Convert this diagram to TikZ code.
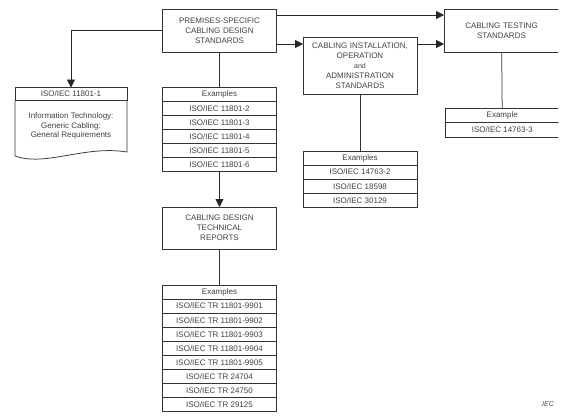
\documentclass[tikz,border=0pt]{standalone}
\usepackage{fontspec}
\setmainfont{Liberation Sans}
\usepackage{tikz}
\usetikzlibrary{positioning,arrows.meta}

\begin{document}
\begin{tikzpicture}[
    x=1pt, y=-1pt, line width=0.75pt,
    every node/.style={font=\fontsize{8}{9.9}\selectfont, text=black!75, inner sep=0pt, outer sep=0pt},
    box/.style={rectangle, draw=black!80, text width=110pt, align=center, minimum width=113.5pt},
    row/.style={rectangle, draw=black!80, minimum width=113.5pt, minimum height=14.1pt},
    arrow/.style={-{Triangle[length=8pt,width=8pt]}, draw=black!85},
    line/.style={draw=black!80}
]
    \useasboundingbox (0,0) rectangle (571,418);
    \clip (0,0) rectangle (558.3,418);

    % main boxes
    \node[box, minimum height=43pt] (prem) at (219.5,30.5) {PREMISES-SPECIFIC\\CABLING DESIGN\\STANDARDS};
    \node[box, minimum height=57pt, minimum width=114pt] (inst) at (360,65.5) {CABLING INSTALLATION,\\OPERATION\\{\fontsize{7}{9.7}\selectfont and}\\ADMINISTRATION\\STANDARDS};
    \node[box, minimum height=43pt, minimum width=115pt] (test) at (501.5,30.5) {CABLING TESTING\\STANDARDS};
    \node[box, minimum height=42pt] (tr) at (219.5,228) {CABLING DESIGN\\TECHNICAL\\REPORTS};

    % generic cabling document
    \node[row, minimum width=112pt, minimum height=13pt] (doch) at (71,94) {ISO/IEC 11801-1};
    \node[align=center] (docb) at (71,126) {Information Technology:\\Generic Cabling:\\General Requirements};
    \draw[line] (doch.south west) -- (15,156) .. controls (45,167) and (85,145) .. (127,152) -- (doch.south east);

    % examples of premises-specific standards
    \node[row] (exa1) at (219.5,94.1) {Examples};
    \node[row, below=0pt of exa1] (exa2) {ISO/IEC 11801-2};
    \node[row, below=0pt of exa2] (exa3) {ISO/IEC 11801-3};
    \node[row, below=0pt of exa3] (exa4) {ISO/IEC 11801-4};
    \node[row, below=0pt of exa4] (exa5) {ISO/IEC 11801-5};
    \node[row, below=0pt of exa5] (exa6) {ISO/IEC 11801-6};

    % examples of installation standards
    \node[row, minimum width=114pt] (insa1) at (360,158) {Examples};
    \node[row, minimum width=114pt, below=0pt of insa1] (insa2) {ISO/IEC 14763-2};
    \node[row, minimum width=114pt, below=0pt of insa2] (insa3) {ISO/IEC 18598};
    \node[row, minimum width=114pt, below=0pt of insa3] (insa4) {ISO/IEC 30129};

    % example of testing standards
    \node[row, minimum width=114.5pt, minimum height=14.5pt] (tsta1) at (502.25,115.3) {Example};
    \node[row, minimum width=114.5pt, minimum height=14.5pt, below=0pt of tsta1] (tsta2) {ISO/IEC 14763-3};

    % examples of technical reports
    \node[row] (tra1) at (219.5,292) {Examples};
    \node[row, below=0pt of tra1] (tra2) {ISO/IEC TR 11801-9901};
    \node[row, below=0pt of tra2] (tra3) {ISO/IEC TR 11801-9902};
    \node[row, below=0pt of tra3] (tra4) {ISO/IEC TR 11801-9903};
    \node[row, below=0pt of tra4] (tra5) {ISO/IEC TR 11801-9904};
    \node[row, below=0pt of tra5] (tra6) {ISO/IEC TR 11801-9905};
    \node[row, below=0pt of tra6] (tra7) {ISO/IEC TR 24704};
    \node[row, below=0pt of tra7] (tra8) {ISO/IEC TR 24750};
    \node[row, below=0pt of tra8] (tra9) {ISO/IEC TR 29125};

    \node[font=\fontsize{7}{8}\selectfont\itshape] (iec) at (548,404) {IEC};

    % connectors
    \coordinate (pr1) at ([yshift=15.5pt]prem.east);
    \coordinate (pr2) at ([yshift=-13.5pt]prem.east);
    \coordinate (in1) at ([yshift=21.5pt]inst.east);
    \draw[arrow] (prem.west) -| (doch.north);
    \draw[arrow] (pr1) -- (pr1 -| test.west);
    \draw[arrow] (pr2) -- (pr2 -| inst.west);
    \draw[arrow] (in1) -- (in1 -| test.west);
    \draw[line] (prem) -- (exa1);
    \draw[arrow] (exa6) -- (tr);
    \draw[line] (tr) -- (tra1);
    \draw[line] (inst) -- (insa1);
    \draw[line] (test) -- (tsta1);
\end{tikzpicture}
\end{document}
